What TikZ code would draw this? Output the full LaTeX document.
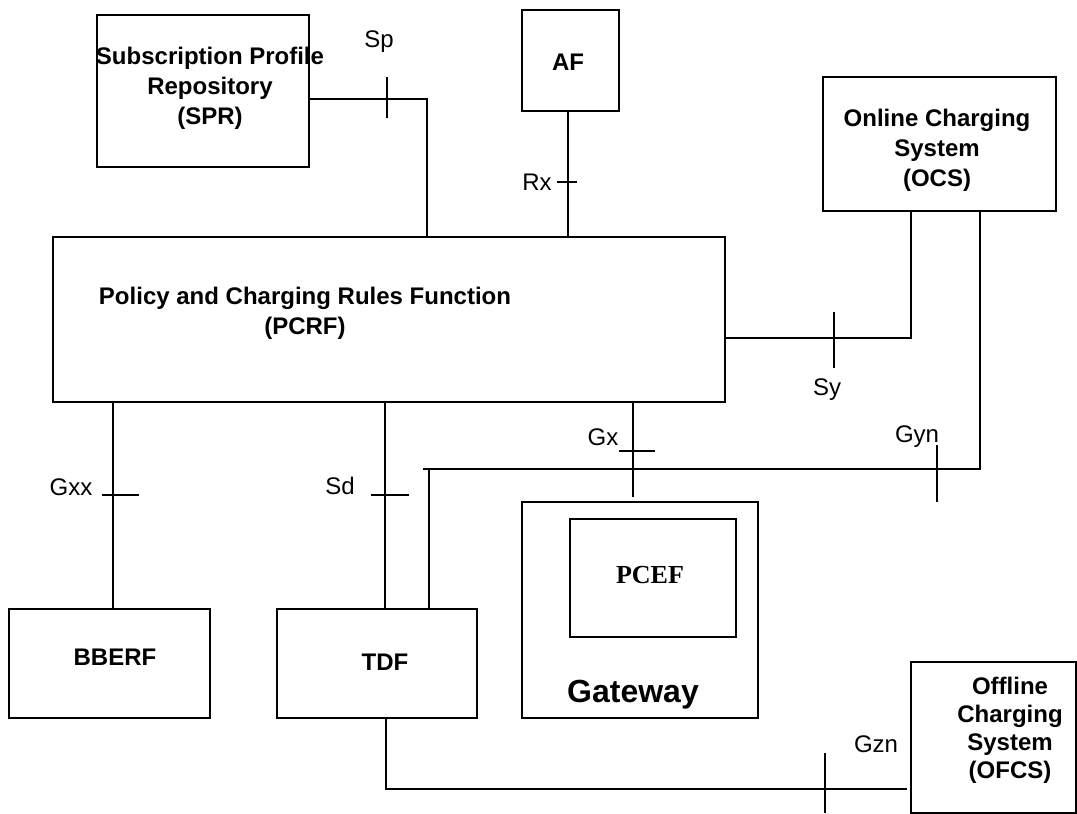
\documentclass[tikz,border=0pt]{standalone}
\usepackage{fontspec}
\setmainfont{Liberation Sans}
\newfontfamily\serifbold{Liberation Serif}
\begin{document}
\begin{tikzpicture}[x=1pt,y=-1pt,
  box/.style={draw, line width=1.6pt, inner sep=0pt, outer sep=0pt},
  txt/.style={font=\fontsize{24}{30}\selectfont\bfseries, align=center, inner sep=0pt},
  lbl/.style={font=\fontsize{24}{30}\selectfont, inner sep=0pt},
  conn/.style={line width=1.5pt},
  tickmark/.style={line width=1.3pt}]
\useasboundingbox (0,0) rectangle (1077,814);

% boxes
\node[box, minimum width=212pt, minimum height=152pt] (spr) at (203,91) {};
\node[box, minimum width=97pt, minimum height=101pt] (af) at (570.5,60.5) {};
\node[box, minimum width=233pt, minimum height=134pt] (ocs) at (939.5,144) {};
\node[box, minimum width=672pt, minimum height=165pt] (pcrf) at (389,319.5) {};
\node[box, minimum width=201pt, minimum height=109pt] (bberf) at (109.5,663.5) {};
\node[box, minimum width=200pt, minimum height=109pt] (tdf) at (377,663.5) {};
\node[box, minimum width=236pt, minimum height=216pt] (gw) at (640,610) {};
\node[box, minimum width=166pt, minimum height=118pt] (pcef) at (653,578) {};
\node[box, minimum width=165pt, minimum height=151pt] (ofcs) at (993.5,737.5) {};

% texts
\node[txt] (spr-t) at (210,88) {Subscription Profile\\Repository\\(SPR)};
\node[txt] (af-t) at (568,62) {AF};
\node[txt] (ocs-t) at (937,150) {Online Charging\\System\\(OCS)};
\node[txt] (pcrf-t) at (305,313) {Policy and Charging Rules Function\\(PCRF)};
\node[txt] (bberf-t) at (115,657) {BBERF};
\node[txt] (tdf-t) at (385,662) {TDF};
\node[inner sep=0pt, font=\serifbold\fontsize{26}{30}\selectfont\bfseries] (pcef-t) at (650,575) {PCEF};
\node[inner sep=0pt, font=\fontsize{32}{36}\selectfont\bfseries] (gw-t) at (633,695) {Gateway};
\node[txt, font=\fontsize{24}{28}\selectfont\bfseries] (ofcs-t) at (1010,730) {Offline\\Charging\\System\\(OFCS)};

% Sp
\draw[conn] (spr.east |- 0,99) -| (pcrf.north -| 427,0);
\draw[tickmark] (387,77) -- (387,118);
\node[lbl] (sp) at (379,42) {Sp};

% Rx
\draw[conn] (af.south -| 568,0) -- (pcrf.north -| 568,0);
\draw[tickmark] (557,182) -- (577,182);
\node[lbl] (rx) at (537,182) {Rx};

% Sy
\draw[conn] (pcrf.east |- 0,338) -| (ocs.south -| 911,0);
\draw[tickmark] (834,312) -- (834,368);
\node[lbl] (sy) at (827,390) {Sy};

% Gyn
\coordinate (gynend) at (423,469);
\coordinate (gynbend) at (429,469);
\draw[conn] (ocs.south -| 980,0) |- (gynend);
\draw[conn] (gynbend) -- (tdf.north -| gynbend);
\draw[tickmark] (937,445) -- (937,502);
\node[lbl] (gyn) at (917,437) {Gyn};

% Gx
\draw[conn, shorten >=5pt] (pcrf.south -| 633,0) -- (gw.north -| 633,0);
\draw[tickmark] (619,451) -- (655,451);
\node[lbl] (gx) at (603,437) {Gx};

% Gxx
\draw[conn] (pcrf.south -| 113,0) -- (bberf.north -| 113,0);
\draw[tickmark] (102,495) -- (139,495);
\node[lbl] (gxx) at (71,487) {Gxx};

% Sd
\draw[conn] (pcrf.south -| 385,0) -- (tdf.north -| 385,0);
\draw[tickmark] (371,495) -- (409,495);
\node[lbl] (sd) at (340,486) {Sd};

% Gzn
\draw[conn, shorten >=4pt] (tdf.south -| 386,0) |- (ofcs.west |- 0,789);
\draw[tickmark] (825,753) -- (825,813);
\node[lbl] (gzn) at (876,744) {Gzn};
\end{tikzpicture}
\end{document}
